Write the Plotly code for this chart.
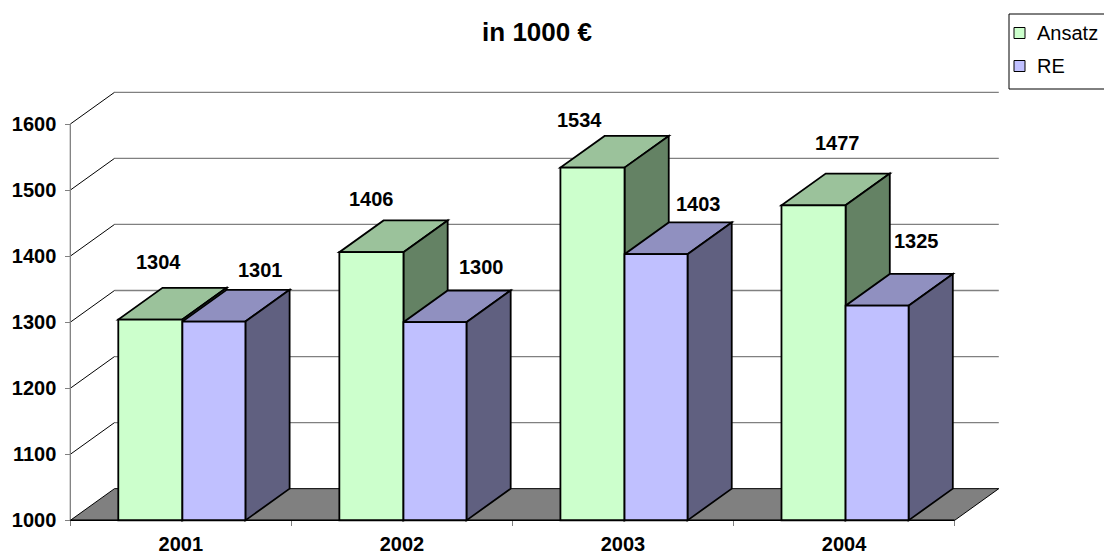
import plotly.graph_objects as go

# ---- data -------------------------------------------------------------
years = ["2001", "2002", "2003", "2004"]
ansatz = [1304, 1406, 1534, 1477]
re_values = [1301, 1300, 1403, 1325]
y_ticks = [1000, 1100, 1200, 1300, 1400, 1500, 1600]
series_names = ["Ansatz", "RE"]
title_text = "in 1000 €"

# ---- pseudo-3D geometry (category units on x, value units on y) -------
BASE = 1000          # floor level of the value axis
DX = 0.2             # box depth, horizontal component
DY = 48              # box depth, vertical component
X0, X1 = -0.015, 4.21
Y0, Y1 = 996, 1650
A_LEFT, SPLIT, R_RIGHT = 0.217, 0.507, 0.792   # bar edges inside a category slot

# figure frame (pixels)
FIG_W, FIG_H = 1104, 555
M_L, M_R, M_T, M_B = 67, 103, 91, 32
PLOT_W = FIG_W - M_L - M_R
PLOT_H = FIG_H - M_T - M_B

FONT = "Liberation Sans, Arial, sans-serif"
FRONT = {"Ansatz": "#CCFFCC", "RE": "#C0C0FF"}
TOP = {"Ansatz": "#9BC29B", "RE": "#9090C0"}
SIDE = {"Ansatz": "#648264", "RE": "#606080"}
EDGE = "#000000"
GRID = "#808080"

# pixel nudges of the value labels
LABEL_SHIFT = {
    "Ansatz": [(8, 58), (0, 53), (-13, 48), (24, 62)],
    "RE": [(47, 52), (47, 55), (42, 50), (39, 65)],
}


def paper_x(px):
    return (px - M_L) / PLOT_W


def paper_y(py):
    return (FIG_H - M_B - py) / PLOT_H


def poly(pts, fill, color, width, layer="below"):
    path = "M " + " L ".join(f"{x},{y}" for x, y in pts) + " Z"
    return dict(type="path", path=path, xref="x", yref="y", fillcolor=fill,
                line=dict(color=color, width=width), layer=layer)


def seg(x0, y0, x1, y1, color, width, layer="below"):
    return dict(type="line", x0=x0, y0=y0, x1=x1, y1=y1, xref="x", yref="y",
                line=dict(color=color, width=width), layer=layer)


shapes = []
n = len(years)

# back wall gridlines and the matching diagonals on the side wall
for v in y_ticks[1:]:
    shapes.append(seg(DX, v + DY, n + DX, v + DY, GRID, 1.3))
    shapes.append(seg(0, v, DX, v + DY, EDGE, 1))

# floor
shapes.append(poly([(0, BASE), (n, BASE), (n + DX, BASE + DY), (DX, BASE + DY)],
                   "#808080", EDGE, 1))

# value axis line
shapes.append(seg(0, y_ticks[0], 0, y_ticks[-1], GRID, 1.3))

# top and side faces of the boxes
edges = {"Ansatz": (A_LEFT, SPLIT), "RE": (SPLIT, R_RIGHT)}
values = {"Ansatz": ansatz, "RE": re_values}
for i in range(n):
    for name in series_names:
        xl, xr = i + edges[name][0], i + edges[name][1]
        v = values[name][i]
        shapes.append(poly([(xl, v), (xr, v), (xr + DX, v + DY), (xl + DX, v + DY)],
                           TOP[name], EDGE, 1.8))
        shapes.append(poly([(xr, BASE), (xr, v), (xr + DX, v + DY), (xr + DX, BASE + DY)],
                           SIDE[name], EDGE, 1.8))

# front edge of the floor on top of everything
shapes.append(seg(0, BASE, n, BASE, EDGE, 1.5, layer="above"))

fig = go.Figure()
centers = [i + 0.5 for i in range(n)]
for name in series_names:
    lo, hi = edges[name]
    fig.add_trace(go.Bar(
        x=centers,
        y=[v - BASE for v in values[name]],
        base=BASE,
        offset=lo - 0.5,
        width=hi - lo,
        name=name,
        marker=dict(color=FRONT[name], line=dict(color=EDGE, width=1.8)),
        customdata=values[name],
        hovertemplate="%{customdata}<extra>" + name + "</extra>",
    ))

annotations = []
for name in series_names:
    lo, hi = edges[name]
    for i, v in enumerate(values[name]):
        sx, sy = LABEL_SHIFT[name][i]
        annotations.append(dict(
            x=i + (lo + hi) / 2, y=v, xref="x", yref="y", text=str(v),
            showarrow=False, xshift=sx, yshift=sy,
            font=dict(family=FONT, size=20, color="black", weight="bold"),
        ))

# legend box in the top-right corner (runs off the right edge)
LEG_LEFT, LEG_TOP, LEG_BOTTOM = 1009, 14, 89
LEG_ROWS = [33, 66]
shapes.append(dict(type="rect", xref="paper", yref="paper",
                   x0=paper_x(LEG_LEFT), x1=paper_x(FIG_W + 10),
                   y0=paper_y(LEG_BOTTOM), y1=paper_y(LEG_TOP),
                   fillcolor="white", line=dict(color="black", width=1), layer="above"))
for name, row in zip(series_names, LEG_ROWS):
    shapes.append(dict(type="rect", xref="paper", yref="paper",
                       x0=paper_x(1014), x1=paper_x(1025),
                       y0=paper_y(row + 5.5), y1=paper_y(row - 5.5),
                       fillcolor=FRONT[name], line=dict(color="black", width=1),
                       layer="above"))
    annotations.append(dict(
        x=paper_x(1035), y=paper_y(row), xref="paper", yref="paper",
        xanchor="left", yanchor="middle", text=name, showarrow=False,
        font=dict(family=FONT, size=20, color="black"),
    ))

fig.update_layout(
    width=FIG_W, height=FIG_H,
    margin=dict(l=M_L, r=M_R, t=M_T, b=M_B, autoexpand=False),
    paper_bgcolor="white", plot_bgcolor="white",
    barmode="overlay",
    showlegend=False,
    shapes=shapes,
    annotations=annotations,
    title=dict(text=f"<b>{title_text}</b>", x=537 / FIG_W, xref="container",
               y=1 - 32 / FIG_H, yref="container", xanchor="center", yanchor="middle",
               font=dict(family=FONT, size=26, color="black")),
    xaxis=dict(
        range=[X0, X1], showgrid=False, zeroline=False, showline=False,
        tickmode="array", tickvals=centers, ticktext=years, ticks="",
        tickfont=dict(family=FONT, size=20, color="black", weight="bold"),
        anchor="free", position=(BASE - Y0) / (Y1 - Y0),
        ticklabelstandoff=10,
        minor=dict(tickmode="array", tickvals=list(range(n + 1)), ticks="outside",
                   ticklen=5, tickcolor=GRID, tickwidth=1.3),
        fixedrange=True,
    ),
    yaxis=dict(
        range=[Y0, Y1], showgrid=False, zeroline=False, showline=False,
        tickmode="array", tickvals=y_ticks, ticks="outside", ticklen=5,
        tickcolor=GRID, tickwidth=1.3,
        tickfont=dict(family=FONT, size=20, color="black", weight="bold"),
        anchor="free", position=(0 - X0) / (X1 - X0),
        ticklabelstandoff=5,
        fixedrange=True,
    ),
)

fig.write_html("out.html")
